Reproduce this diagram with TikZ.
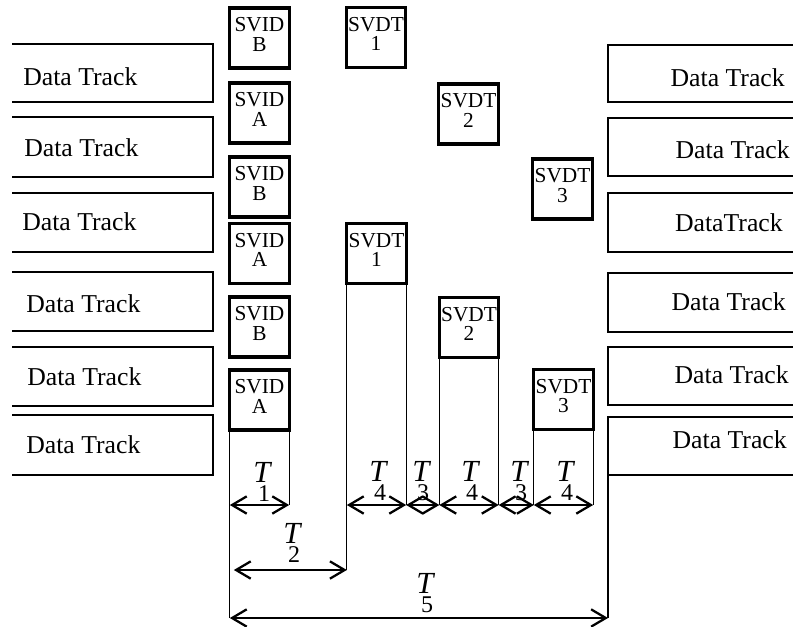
\documentclass[tikz,border=0pt]{standalone}
\usepackage{fontspec}
\setmainfont{Liberation Serif}
\usetikzlibrary{arrows.meta}
\begin{document}
\begin{tikzpicture}[x=0.75pt,y=-0.75pt,
  track/.style={line width=2.2pt, line join=miter},
  trk/.style={font=\fontsize{19.3}{22}\selectfont, inner sep=0pt},
  sbox/.style={draw, line width=2.4pt, minimum width=44.5pt, minimum height=45pt, inner sep=0pt, outer sep=0pt},
  stxt/.style={font=\fontsize{16}{14.6}\selectfont, align=center, inner sep=0pt, anchor=north},
  vl/.style={line width=0.8pt},
  barb/.tip={Straight Barb[length=11pt,width=13pt,line width=1.7pt]},
  dim/.style={line width=1.3pt, barb-barb},
  tlab/.style={font=\fontsize{18}{18}\selectfont, align=center, inner sep=0pt, anchor=south}
]
\newcommand{\tl}[1]{{\fontsize{23}{23}\selectfont\itshape T}\\[-3.5pt]\hspace*{3pt}#1}
\useasboundingbox (0,0) rectangle (793,626);

% left data tracks
\foreach \a/\b in {44/102,117/177,193/252,272/331,347/406,415/475}
  \draw[track] (12,\a) -- (213,\a) -- (213,\b) -- (12,\b);
% right data tracks
\foreach \a/\b in {45/102,118/176,193/252,273/332,347/405,417/475}
  \draw[track] (796,\a) -- (608,\a) -- (608,\b) -- (796,\b);

\node[trk, anchor=west] (l1) at (23,77) {Data Track};
\node[trk, anchor=west] (l2) at (24,148) {Data Track};
\node[trk, anchor=west] (l3) at (22,222) {Data Track};
\node[trk, anchor=west] (l4) at (26,304) {Data Track};
\node[trk, anchor=west] (l5) at (27,377) {Data Track};
\node[trk, anchor=west] (l6) at (26,445) {Data Track};

\node[trk, anchor=east] (r1) at (785,78) {Data Track};
\node[trk, anchor=east] (r2) at (790,150) {Data Track};
\node[trk, anchor=east] (r3) at (783,223) {DataTrack};
\node[trk, anchor=east] (r4) at (786,302) {Data Track};
\node[trk, anchor=east] (r5) at (789,375) {Data Track};
\node[trk, anchor=east] (r6) at (787,440) {Data Track};

% SVID boxes
\node[sbox] (id1) at (259.5,38) {};
\node[sbox] (id2) at (259.5,113) {};
\node[sbox] (id3) at (259.5,187) {};
\node[sbox] (id4) at (259.5,253.5) {};
\node[sbox] (id5) at (259.5,327) {};
\node[sbox] (id6) at (259.5,400) {};
\node[stxt] (tid1) at ([yshift=-7pt]id1.north) {SVID\\B};
\node[stxt] (tid2) at ([yshift=-7pt]id2.north) {SVID\\A};
\node[stxt] (tid3) at ([yshift=-7pt]id3.north) {SVID\\B};
\node[stxt] (tid4) at ([yshift=-7pt]id4.north) {SVID\\A};
\node[stxt] (tid5) at ([yshift=-7pt]id5.north) {SVID\\B};
\node[stxt] (tid6) at ([yshift=-7pt]id6.north) {SVID\\A};

% SVDT boxes (upper)
\node[sbox] (dt1) at (376,37.5) {};
\node[sbox] (dt2) at (468.5,114) {};
\node[sbox] (dt3) at (562.5,189) {};
\node[stxt] (tdt1) at ([yshift=-7pt]dt1.north) {SVDT\\1};
\node[stxt] (tdt2) at ([yshift=-7pt]dt2.north) {SVDT\\2};
\node[stxt] (tdt3) at ([yshift=-7pt]dt3.north) {SVDT\\3};
% SVDT boxes (lower)
\node[sbox] (db1) at (376.5,253.5) {};
\node[sbox] (db2) at (469,327.5) {};
\node[sbox] (db3) at (563.5,399.5) {};
\node[stxt] (tdb1) at ([yshift=-7pt]db1.north) {SVDT\\1};
\node[stxt] (tdb2) at ([yshift=-7pt]db2.north) {SVDT\\2};
\node[stxt] (tdb3) at ([yshift=-7pt]db3.north) {SVDT\\3};

% reference levels
\coordinate (yT) at (0,505);
\coordinate (y2) at (0,570);
\coordinate (y5) at (0,618);
\coordinate (rc) at (608,475);

% vertical lines
\draw[vl] (id6.south west) -- (id6.south west |- y5);
\draw[vl] (id6.south east) -- (id6.south east |- yT);
\draw[vl] (db1.south west) -- (db1.south west |- y2);
\draw[vl] (db1.south east) -- (db1.south east |- yT);
\draw[vl] (db2.south west) -- (db2.south west |- yT);
\draw[vl] (db2.south east) -- (db2.south east |- yT);
\draw[vl] (db3.south west) -- (db3.south west |- yT);
\draw[vl] (db3.south east) -- (db3.south east |- yT);
\draw[vl] (rc) -- (rc |- y5);

% dimension arrows
\draw[dim] (id6.south west |- yT) -- (id6.south east |- yT);
\draw[dim] (db1.south west |- yT) -- (db1.south east |- yT);
\draw[dim] (db1.south east |- yT) -- (db2.south west |- yT);
\draw[dim] (db2.south west |- yT) -- (db2.south east |- yT);
\draw[dim] (db2.south east |- yT) -- (db3.south west |- yT);
\draw[dim] (db3.south west |- yT) -- (db3.south east |- yT);
\draw[dim] ([xshift=3pt]id6.south west |- y2) -- (db1.south west |- y2);
\draw[dim] (id6.south west |- y5) -- (rc |- y5);

% labels
\node[tlab] (T1)  at (262,502) {\tl{1}};
\node[tlab] (T4a) at (378,501) {\tl{4}};
\node[tlab] (T3a) at (421,501) {\tl{3}};
\node[tlab] (T4b) at (470,501) {\tl{4}};
\node[tlab] (T3b) at (519,501) {\tl{3}};
\node[tlab] (T4c) at (565,501) {\tl{4}};
\node[tlab] (T2)  at (292,563) {\tl{2}};
\node[tlab] (T5)  at (425,613) {\tl{5}};
\end{tikzpicture}
\end{document}
